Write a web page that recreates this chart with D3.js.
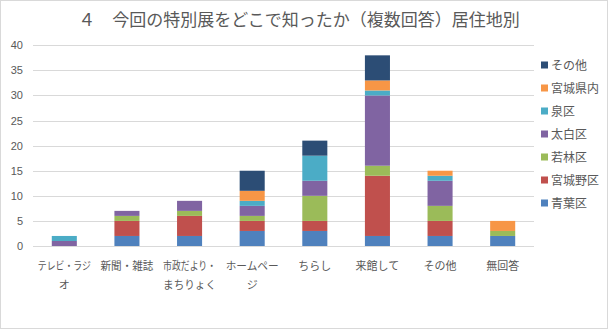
<!DOCTYPE html>
<html><head><meta charset="utf-8">
<script src="https://cdn.jsdelivr.net/npm/d3@7"></script>
<style>body{margin:0;background:#fff}svg{display:block;font-family:"Noto Sans CJK JP",sans-serif}</style>
</head><body><svg id="c" width="608" height="329"></svg>
<script>
const categories = ["テレビ・ラジオ","新聞・雑誌","市政だより・まちりょく","ホームページ","ちらし","来館して","その他","無回答"];
const categoryLines = [["テレビ・ラジ","オ"],["新聞・雑誌"],["市政だより・","まちりょく"],["ホームペー","ジ"],["ちらし"],["来館して"],["その他"],["無回答"]];
const seriesNames = ["青葉区","宮城野区","若林区","太白区","泉区","宮城県内","その他"];
const aoba      = [0,2,2,3,3,2,2,2];
const miyagino  = [0,3,4,2,2,12,3,0];
const wakabayashi=[0,1,1,1,5,2,3,1];
const taihaku   = [1,1,2,2,3,14,5,0];
const izumi     = [1,0,0,1,5,1,1,0];
const kennai    = [0,0,0,2,0,2,1,2];
const sonota    = [0,0,0,4,3,5,0,0];
const seriesValues = [aoba,miyagino,wakabayashi,taihaku,izumi,kennai,sonota];
const colors = ["#4F81BD","#C0504D","#9BBB59","#8064A2","#4BACC6","#F79646","#2C4D75"];
const yTicks = [0,5,10,15,20,25,30,35,40];
const title = "４　今回の特別展をどこで知ったか（複数回答）居住地別";

const svg = d3.select("#c");
svg.append("rect").attr("x",0.5).attr("y",0.5).attr("width",607).attr("height",328).attr("fill","#fff").attr("stroke","#d9d9d9");
const L=33,R=534,T=45.3,B=246;
const x = d3.scaleBand().domain(categories).range([L,R]).paddingInner(0.6).paddingOuter(0.3);
const y = d3.scaleLinear().domain([0,40]).range([B,T]);

svg.append("text").attr("x",299).attr("y",26).attr("text-anchor","middle").attr("font-size",17).attr("fill","#595959").text(title);

const gy = svg.append("g");
gy.selectAll("line").data(yTicks).join("line").attr("x1",L).attr("x2",R)
  .attr("y1",d=>Math.round(y(d))+0.5).attr("y2",d=>Math.round(y(d))+0.5).attr("stroke","#d9d9d9");
gy.selectAll("text").data(yTicks).join("text").attr("x",23).attr("y",d=>y(d)+4).attr("text-anchor","end")
  .attr("font-size",11).attr("fill","#595959").attr("font-family","Arial, Liberation Sans, sans-serif").text(d=>d);

const data = categories.map((c,i)=>{const o={cat:c};seriesNames.forEach((s,j)=>o[s]=seriesValues[j][i]);return o;});
const stack = d3.stack().keys(seriesNames)(data);
svg.append("g").selectAll("g").data(stack).join("g").attr("fill",(d,i)=>colors[i])
  .selectAll("rect").data(d=>d).join("rect")
  .attr("x",d=>x(d.data.cat)).attr("width",x.bandwidth())
  .attr("y",d=>y(d[1])).attr("height",d=>y(d[0])-y(d[1]));

const gx = svg.append("g");
categories.forEach((c,i)=>{
  categoryLines[i].forEach((ln,k)=>{
    const t = gx.append("text").attr("text-anchor","middle").attr("font-size",11).attr("fill","#595959")
      .attr("x",x(c)+x.bandwidth()/2).attr("y",270+k*19).text(ln);
    const w = t.node().getComputedTextLength();
    if (w > 53) t.attr("textLength",53).attr("lengthAdjust","spacingAndGlyphs");
  });
});

const lg = svg.append("g");
const order = seriesNames.map((s,i)=>i).reverse();
order.forEach((si,k)=>{
  const yy = 65+k*23;
  lg.append("rect").attr("x",541).attr("y",yy-3.5).attr("width",7).attr("height",7).attr("fill",colors[si]);
  lg.append("text").attr("x",551).attr("y",yy+4.5).attr("font-size",12).attr("fill","#595959").text(seriesNames[si]);
});
</script></body></html>
